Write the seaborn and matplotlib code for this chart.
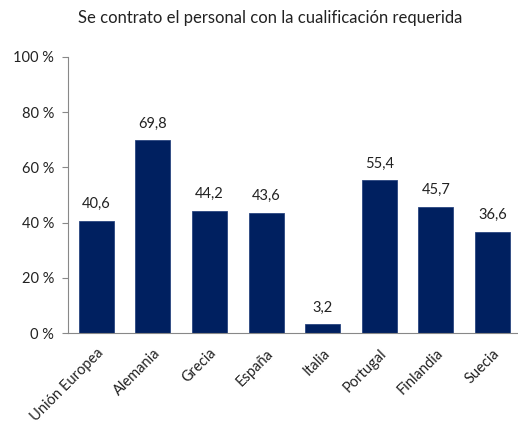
import matplotlib
matplotlib.use("Agg")
import matplotlib.pyplot as plt
import seaborn as sns
import pandas as pd

# -------- DATA --------
paises = ["Unión Europea", "Alemania", "Grecia", "España", "Italia",
          "Portugal", "Finlandia", "Suecia"]
valores = [40.6, 69.8, 44.2, 43.6, 3.2, 55.4, 45.7, 36.6]
ticks_y = [0, 20, 40, 60, 80, 100]

df = pd.DataFrame({"Pais": paises, "Valor": valores})

# -------- SETTINGS --------
sns.set_style("white")
plt.rcParams["font.family"] = ["Lato", "DejaVu Sans"]

fig = plt.figure(figsize=(5.18, 4.23), dpi=100)
ax = fig.add_axes([68 / 518, 1 - 333 / 423, (518 - 68) / 518, (333 - 57) / 423])

sns.barplot(data=df, x="Pais", y="Valor", color="#002060",
            width=0.62, saturation=1, edgecolor="#2a4580", linewidth=0.6, ax=ax)

for i, v in enumerate(valores):
    ax.text(i, v + 3.5, f"{v:.1f}".replace(".", ","), ha="center", va="bottom",
            fontsize=10.5, color="#222222")

ax.set_ylim(0, 100)
ax.set_xlim(-0.5, 7.45)
ax.set_yticks(ticks_y)
ax.set_yticklabels([f"{t} %" for t in ticks_y], fontsize=10.5, color="#222222")
ax.set_xticks(range(len(paises)))
ax.set_xticklabels(paises, rotation=45, ha="right", rotation_mode="anchor",
                   fontsize=10.5, color="#222222")
ax.tick_params(axis="y", left=True, length=4, width=0.8, color="#888888", pad=6)
ax.tick_params(axis="x", bottom=False, pad=6)
ax.set_xlabel("")
ax.set_ylabel("")

for s in ["top", "right"]:
    ax.spines[s].set_visible(False)
for s in ["left", "bottom"]:
    ax.spines[s].set_color("#888888")
    ax.spines[s].set_linewidth(0.8)

fig.text(270 / 518, 1 - 18 / 423, "Se contrato el personal con la cualificación requerida",
         ha="center", va="center", fontsize=12, color="#222222")

fig.savefig("out.png", dpi=100)
